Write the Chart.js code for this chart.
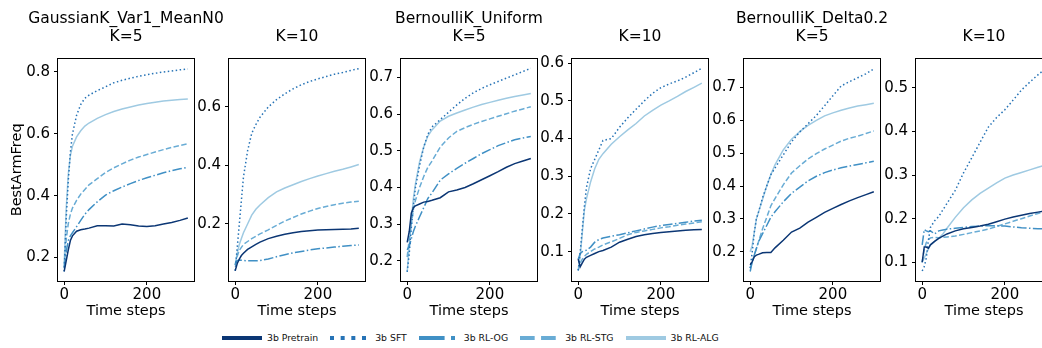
<!DOCTYPE html>
<html>
<head>
<meta charset="utf-8">
<script src="https://cdn.jsdelivr.net/npm/chart.js@4.4.0/dist/chart.umd.min.js"></script>
<style>
  html, body { margin: 0; padding: 0; background: #fff; width: 1042px; height: 348px; overflow: hidden; }
  body { position: relative; font-family: "DejaVu Sans", sans-serif; }
  .panel { position: absolute; top: 0; }
  .ptitle { position: absolute; top: 10px; width: 300px; text-align: center; font-size: 15.5px; line-height: 17.5px; color: #000; white-space: nowrap; }
  .ptitle div { height: 17.5px; }
  #legend { position: absolute; left: 222px; top: 332px; display: flex; align-items: center; font-size: 9.3px; color: #111; white-space: nowrap; }
  #legend .item { display: flex; align-items: center; margin-right: 12px; }
  #legend canvas { margin-right: 5px; }
</style>
</head>
<body>
<div id="legend"></div>
<script>
const timeSteps = [0, 5, 10, 15, 20, 30, 40, 50, 60, 80, 100, 120, 140, 160, 180, 200, 220, 240, 260, 280, 299];
const xTicks = [0, 200];

// GaussianK_Var1_MeanN0, K=5
const gaussK5Pretrain = [0.155, 0.19, 0.225, 0.255, 0.27, 0.285, 0.29, 0.292, 0.295, 0.303, 0.303, 0.302, 0.308, 0.306, 0.302, 0.3, 0.303, 0.308, 0.313, 0.32, 0.328];
const gaussK5Sft = [0.155, 0.33, 0.45, 0.54, 0.6, 0.66, 0.695, 0.715, 0.725, 0.74, 0.752, 0.765, 0.773, 0.78, 0.786, 0.791, 0.796, 0.8, 0.803, 0.807, 0.81];
const gaussK5Og = [0.165, 0.22, 0.255, 0.27, 0.28, 0.3, 0.32, 0.34, 0.355, 0.38, 0.402, 0.416, 0.428, 0.439, 0.449, 0.458, 0.466, 0.474, 0.481, 0.487, 0.492];
const gaussK5Stg = [0.17, 0.26, 0.31, 0.34, 0.36, 0.385, 0.405, 0.42, 0.435, 0.455, 0.475, 0.49, 0.503, 0.515, 0.525, 0.533, 0.541, 0.549, 0.556, 0.562, 0.568];
const gaussK5Alg = [0.18, 0.36, 0.47, 0.53, 0.56, 0.59, 0.61, 0.625, 0.635, 0.65, 0.662, 0.672, 0.68, 0.687, 0.693, 0.698, 0.702, 0.706, 0.709, 0.711, 0.713];

// GaussianK_Var1_MeanN0, K=10
const gaussK10Pretrain = [0.04, 0.065, 0.08, 0.092, 0.1, 0.113, 0.122, 0.13, 0.138, 0.15, 0.158, 0.165, 0.17, 0.174, 0.177, 0.179, 0.18, 0.181, 0.182, 0.183, 0.185];
const gaussK10Sft = [0.04, 0.12, 0.2, 0.28, 0.36, 0.45, 0.51, 0.54, 0.565, 0.6, 0.625, 0.645, 0.662, 0.676, 0.687, 0.696, 0.704, 0.712, 0.718, 0.725, 0.731];
const gaussK10Og = [0.06, 0.075, 0.077, 0.076, 0.075, 0.074, 0.074, 0.074, 0.075, 0.08, 0.088, 0.095, 0.101, 0.106, 0.111, 0.115, 0.118, 0.121, 0.124, 0.126, 0.128];
const gaussK10Stg = [0.06, 0.09, 0.11, 0.12, 0.13, 0.14, 0.15, 0.158, 0.166, 0.18, 0.195, 0.21, 0.222, 0.234, 0.244, 0.253, 0.26, 0.266, 0.271, 0.275, 0.278];
const gaussK10Alg = [0.06, 0.1, 0.13, 0.15, 0.17, 0.2, 0.23, 0.25, 0.265, 0.29, 0.31, 0.323, 0.334, 0.345, 0.355, 0.364, 0.372, 0.38, 0.387, 0.395, 0.403];

// BernoulliK_Uniform, K=5
const bernUniK5Pretrain = [0.25, 0.28, 0.33, 0.345, 0.35, 0.355, 0.36, 0.362, 0.365, 0.372, 0.388, 0.393, 0.4, 0.41, 0.421, 0.432, 0.443, 0.455, 0.465, 0.472, 0.479];
const bernUniK5Sft = [0.17, 0.22, 0.29, 0.35, 0.4, 0.46, 0.51, 0.545, 0.565, 0.585, 0.605, 0.625, 0.643, 0.658, 0.67, 0.68, 0.689, 0.698, 0.707, 0.716, 0.725];
const bernUniK5Og = [0.23, 0.24, 0.26, 0.28, 0.295, 0.32, 0.345, 0.37, 0.385, 0.42, 0.437, 0.452, 0.466, 0.479, 0.492, 0.503, 0.514, 0.522, 0.53, 0.535, 0.539];
const bernUniK5Stg = [0.21, 0.26, 0.3, 0.34, 0.365, 0.4, 0.43, 0.455, 0.472, 0.51, 0.535, 0.553, 0.563, 0.572, 0.58, 0.587, 0.594, 0.601, 0.608, 0.614, 0.62];
const bernUniK5Alg = [0.17, 0.24, 0.31, 0.37, 0.41, 0.47, 0.51, 0.54, 0.557, 0.581, 0.594, 0.603, 0.611, 0.619, 0.626, 0.632, 0.638, 0.643, 0.648, 0.652, 0.656];

// BernoulliK_Uniform, K=10
const bernUniK10Pretrain = [0.08, 0.06, 0.07, 0.08, 0.085, 0.09, 0.095, 0.1, 0.103, 0.112, 0.125, 0.133, 0.14, 0.145, 0.148, 0.151, 0.153, 0.155, 0.157, 0.158, 0.159];
const bernUniK10Sft = [0.05, 0.1, 0.16, 0.22, 0.27, 0.32, 0.345, 0.37, 0.395, 0.4, 0.43, 0.455, 0.478, 0.5, 0.52, 0.535, 0.545, 0.553, 0.563, 0.575, 0.587];
const bernUniK10Og = [0.08, 0.095, 0.1, 0.102, 0.104, 0.112, 0.125, 0.132, 0.136, 0.141, 0.145, 0.15, 0.155, 0.16, 0.165, 0.169, 0.172, 0.175, 0.178, 0.181, 0.183];
const bernUniK10Stg = [0.05, 0.07, 0.08, 0.087, 0.093, 0.1, 0.107, 0.112, 0.118, 0.126, 0.135, 0.145, 0.151, 0.155, 0.159, 0.163, 0.166, 0.17, 0.173, 0.176, 0.179];
const bernUniK10Alg = [0.05, 0.09, 0.15, 0.21, 0.24, 0.285, 0.32, 0.345, 0.36, 0.385, 0.405, 0.423, 0.44, 0.46, 0.475, 0.489, 0.5, 0.512, 0.525, 0.536, 0.547];

// BernoulliK_Delta0.2, K=5
const bernDeltaK5Pretrain = [0.16, 0.17, 0.185, 0.19, 0.192, 0.197, 0.198, 0.198, 0.212, 0.235, 0.26, 0.272, 0.29, 0.305, 0.32, 0.332, 0.344, 0.355, 0.365, 0.374, 0.383];
const bernDeltaK5Sft = [0.15, 0.2, 0.26, 0.3, 0.32, 0.365, 0.4, 0.435, 0.455, 0.495, 0.535, 0.565, 0.59, 0.615, 0.645, 0.675, 0.705, 0.718, 0.73, 0.742, 0.757];
const bernDeltaK5Og = [0.14, 0.17, 0.19, 0.21, 0.23, 0.255, 0.28, 0.305, 0.322, 0.352, 0.378, 0.397, 0.416, 0.43, 0.441, 0.449, 0.456, 0.461, 0.466, 0.471, 0.476];
const bernDeltaK5Stg = [0.15, 0.17, 0.19, 0.21, 0.23, 0.27, 0.305, 0.34, 0.362, 0.404, 0.44, 0.462, 0.483, 0.499, 0.513, 0.525, 0.537, 0.546, 0.552, 0.56, 0.568];
const bernDeltaK5Alg = [0.2, 0.22, 0.26, 0.3, 0.32, 0.36, 0.4, 0.435, 0.465, 0.51, 0.543, 0.566, 0.585, 0.6, 0.614, 0.623, 0.631, 0.638, 0.644, 0.648, 0.652];

// BernoulliK_Delta0.2, K=10
const bernDeltaK10Pretrain = [0.1, 0.135, 0.135, 0.132, 0.14, 0.148, 0.155, 0.16, 0.165, 0.172, 0.177, 0.18, 0.183, 0.187, 0.193, 0.199, 0.204, 0.208, 0.212, 0.215, 0.218];
const bernDeltaK10Sft = [0.08, 0.09, 0.11, 0.15, 0.18, 0.195, 0.205, 0.22, 0.235, 0.265, 0.305, 0.34, 0.375, 0.41, 0.432, 0.45, 0.472, 0.495, 0.513, 0.53, 0.545];
const bernDeltaK10Og = [0.14, 0.175, 0.172, 0.17, 0.172, 0.165, 0.172, 0.174, 0.176, 0.178, 0.18, 0.182, 0.183, 0.184, 0.184, 0.183, 0.181, 0.179, 0.178, 0.177, 0.177];
const bernDeltaK10Stg = [0.1, 0.13, 0.145, 0.152, 0.156, 0.157, 0.156, 0.157, 0.158, 0.16, 0.164, 0.168, 0.172, 0.176, 0.182, 0.188, 0.194, 0.2, 0.206, 0.212, 0.217];
const bernDeltaK10Alg = [0.1, 0.11, 0.12, 0.13, 0.14, 0.148, 0.155, 0.165, 0.178, 0.203, 0.225, 0.243, 0.258, 0.27, 0.282, 0.293, 0.3, 0.306, 0.312, 0.318, 0.323];

const seriesNames = ['3b Pretrain', '3b SFT', '3b RL-OG', '3b RL-STG', '3b RL-ALG'];
const seriesColors = ['#0b3674', '#2673b6', '#4090c5', '#69acd5', '#9fcae2'];
const seriesDash = [[], [1.5, 2.5], [9.6, 2.4, 1.5, 2.4], [5.5, 2.4], []];

const FONT = '"DejaVu Sans", sans-serif';
const PLOT_W = 136;
const PLOT_TOP = 58.7;

const panels = [
  { title: ['GaussianK_Var1_MeanN0', 'K=5'], left: 58, yRange: [0.124, 0.843], yTicks: [0.2, 0.4, 0.6, 0.8], yLabel: 'BestArmFreq',
    series: [gaussK5Pretrain, gaussK5Sft, gaussK5Og, gaussK5Stg, gaussK5Alg] },
  { title: ['', 'K=10'], left: 229, yRange: [0.005, 0.765], yTicks: [0.2, 0.4, 0.6],
    series: [gaussK10Pretrain, gaussK10Sft, gaussK10Og, gaussK10Stg, gaussK10Alg] },
  { title: ['BernoulliK_Uniform', 'K=5'], left: 401, yRange: [0.145, 0.751], yTicks: [0.2, 0.3, 0.4, 0.5, 0.6, 0.7],
    series: [bernUniK5Pretrain, bernUniK5Sft, bernUniK5Og, bernUniK5Stg, bernUniK5Alg] },
  { title: ['', 'K=10'], left: 572, yRange: [0.022, 0.612], yTicks: [0.1, 0.2, 0.3, 0.4, 0.5, 0.6],
    series: [bernUniK10Pretrain, bernUniK10Sft, bernUniK10Og, bernUniK10Stg, bernUniK10Alg] },
  { title: ['BernoulliK_Delta0.2', 'K=5'], left: 744, yRange: [0.111, 0.788], yTicks: [0.2, 0.3, 0.4, 0.5, 0.6, 0.7],
    series: [bernDeltaK5Pretrain, bernDeltaK5Sft, bernDeltaK5Og, bernDeltaK5Stg, bernDeltaK5Alg] },
  { title: ['', 'K=10'], left: 916, yRange: [0.057, 0.567], yTicks: [0.1, 0.2, 0.3, 0.4, 0.5],
    series: [bernDeltaK10Pretrain, bernDeltaK10Sft, bernDeltaK10Og, bernDeltaK10Stg, bernDeltaK10Alg] }
];

// box around each plot area, drawn over the lines like matplotlib spines
const frame = {
  id: 'frame',
  afterDatasetsDraw(chart) {
    const a = chart.chartArea;
    const ctx = chart.ctx;
    ctx.save();
    ctx.strokeStyle = '#000';
    ctx.lineWidth = 1;
    const l = Math.round(a.left) - 0.5, t = Math.round(a.top) - 0.5;
    const r = Math.round(a.right) + 0.5, b = Math.round(a.bottom) + 0.5;
    ctx.strokeRect(l, t, r - l, b - t);
    ctx.restore();
  }
};

const tickFont = { family: FONT, size: 15 };
const labelFont = { family: FONT, size: 14.5 };

panels.forEach((p) => {
  const axisW = p.yLabel ? 58 : 40;
  const w = axisW + PLOT_W + 4;
  const h = 321;
  const wrap = document.createElement('div');
  wrap.className = 'panel';
  wrap.style.left = (p.left - axisW) + 'px';
  wrap.style.width = w + 'px';
  wrap.style.height = h + 'px';
  const canvas = document.createElement('canvas');
  canvas.width = w;
  canvas.height = h;
  canvas.style.width = w + 'px';
  canvas.style.height = h + 'px';
  wrap.appendChild(canvas);
  document.body.appendChild(wrap);

  // two-line title centred over the plot area
  const title = document.createElement('div');
  title.className = 'ptitle';
  title.style.left = (p.left + PLOT_W / 2 - 150) + 'px';
  p.title.forEach((line) => {
    const d = document.createElement('div');
    d.textContent = line;
    title.appendChild(d);
  });
  document.body.appendChild(title);

  new Chart(canvas, {
    type: 'line',
    data: {
      datasets: p.series.map((vals, k) => ({
        label: seriesNames[k],
        data: timeSteps.map((t, j) => ({ x: t, y: vals[j] })),
        borderColor: seriesColors[k],
        borderWidth: 1.5,
        borderDash: seriesDash[k],
        pointRadius: 0,
        tension: 0,
        fill: false
      }))
    },
    options: {
      responsive: false,
      animation: false,
      layout: { padding: { left: 0, right: 4, top: PLOT_TOP, bottom: 0 } },
      plugins: {
        legend: { display: false },
        tooltip: { enabled: false },
        title: { display: false }
      },
      scales: {
        x: {
          type: 'linear',
          min: -14.95,
          max: 313.95,
          afterBuildTicks: (s) => { s.ticks = xTicks.map((v) => ({ value: v })); },
          afterFit: (s) => { s.height = 40; },
          grid: { display: true, drawOnChartArea: false, drawTicks: true, tickLength: 4, tickColor: '#000' },
          border: { display: false },
          ticks: { color: '#000', font: tickFont, padding: 1, maxRotation: 0, callback: (v) => String(v) },
          title: { display: true, text: 'Time steps', color: '#000', font: labelFont, padding: { top: 0, bottom: 1 } }
        },
        y: {
          type: 'linear',
          min: p.yRange[0],
          max: p.yRange[1],
          afterBuildTicks: (s) => { s.ticks = p.yTicks.map((v) => ({ value: v })); },
          afterFit: (s) => { s.width = axisW; },
          grid: { display: true, drawOnChartArea: false, drawTicks: true, tickLength: 4, tickColor: '#000' },
          border: { display: false },
          ticks: { color: '#000', font: tickFont, padding: 4, callback: (v) => v.toFixed(1) },
          title: p.yLabel
            ? { display: true, text: p.yLabel, color: '#000', font: labelFont, padding: { top: 8.6, bottom: 0 } }
            : { display: false }
        }
      }
    },
    plugins: [frame]
  });
});

// legend row under the panels
const legend = document.getElementById('legend');
seriesNames.forEach((name, k) => {
  const item = document.createElement('div');
  item.className = 'item';
  const c = document.createElement('canvas');
  c.width = 40;
  c.height = 8;
  const ctx = c.getContext('2d');
  ctx.strokeStyle = seriesColors[k];
  ctx.lineWidth = 4;
  ctx.lineCap = 'butt';
  ctx.setLineDash(seriesDash[k].map((d) => d * 4 / 1.5));
  ctx.beginPath();
  ctx.moveTo(0, 4);
  ctx.lineTo(40, 4);
  ctx.stroke();
  const span = document.createElement('span');
  span.textContent = name;
  item.appendChild(c);
  item.appendChild(span);
  legend.appendChild(item);
});
</script>
</body>
</html>
